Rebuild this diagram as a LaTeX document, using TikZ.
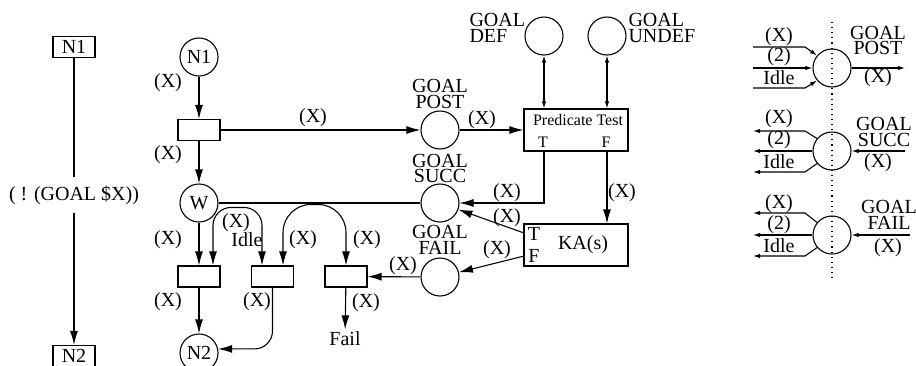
\documentclass[tikz,border=0pt]{standalone}
\usepackage{fontspec}
\setmainfont{Liberation Serif}
\usetikzlibrary{arrows.meta}
\begin{document}
\begin{tikzpicture}[x=0.5pt,y=-0.5pt,
  line width=0.55pt,
  arr/.style={-{Latex[length=7pt,width=4pt]}},
  darr/.style={{Latex[length=7pt,width=4pt]}-{Latex[length=7pt,width=4pt]}},
  sarr/.style={-{Latex[length=3.5pt,width=2.2pt]}},
  dsarr/.style={{Latex[length=3.5pt,width=2.2pt]}-{Latex[length=3.5pt,width=2.2pt]}},
  place/.style={circle,draw,minimum size=19pt,inner sep=0pt},
  trans/.style={rectangle,draw,minimum width=21pt,minimum height=10.5pt,inner sep=0pt},
  lbl/.style={inner sep=0pt,font=\fontsize{10}{7.8}\selectfont,align=center},
  sm/.style={inner sep=0pt,font=\fontsize{8}{8}\selectfont},
]
\clip (0,0) rectangle (916,365);

% ---------- left column ----------
\node[trans] (L1) at (74,47) {N1};
\node[inner sep=4pt] (Lt) at (74,195) {( ! (GOAL \$X))};
\node[trans] (L2) at (74,356) {N2};
\draw (L1) -- (Lt);
\draw[arr] (Lt) -- (L2);

% ---------- middle net ----------
\node[place] (N1) at (199,57) {N1};
\node[trans] (T0) at (199,130) {};
\node[place] (W) at (199,203) {W};
\node[trans] (T1) at (199,276.5) {};
\node[trans] (T2) at (272.5,276.5) {};
\node[trans] (T3) at (346,276.5) {};
\node[place] (N2) at (199,353) {N2};
\node[inner sep=1pt] (fail) at (345,339) {Fail};
\node[place] (GP) at (440,130) {};
\node[place] (GS) at (440,203) {};
\node[place] (GF) at (440,277) {};
\node[place] (GD) at (544,36) {};
\node[place] (GU) at (607,36) {};
\node[draw,minimum width=52pt,minimum height=21pt,inner sep=0pt] (PT) at (576,130) {};
\node[draw,minimum width=52pt,minimum height=21pt,inner sep=0pt] (KA) at (576,245) {};

\node[sm] (ptt) at (578,120) {Predicate Test};
\node[sm] (ptT) at (543,142) {T};
\node[sm] (ptF) at (606,142) {F};
\node[lbl] (kat) at (583,245) {KA(s)};
\node[lbl] (kaTl) at (534,234) {T};
\node[lbl] (kaFl) at (534,256) {F};

\node[lbl] at (440,94) {GOAL\\POST};
\node[lbl] at (440,168.5) {GOAL\\SUCC};
\node[lbl] at (440,240) {GOAL\\FAIL};
\node[lbl,align=left,anchor=west] at (469,28) {GOAL\\DEF};
\node[lbl,align=left,anchor=west] at (628,28) {GOAL\\UNDEF};

\coordinate (kaT) at (524,233);
\coordinate (kaF) at (524,256);

\draw[arr] (N1) -- (T0);
\draw[arr] (T0) -- (W);
\draw[arr] (T0) -- (GP);
\draw[arr] (GP) -- (PT);
\draw[dsarr] (GD) -- (GD |- PT.north);
\draw[dsarr] (GU) -- (GU |- PT.north);
\draw[arr] (GD |- PT.south) |- (GS);
\draw[arr] (GU |- PT.south) -- (GU |- KA.north);
\draw[arr] (kaT) -- (GS);
\draw[arr] (kaF) -- (GF);
\draw[arr] (GF) -- (T3);
\draw[arr] (T3) -- (fail);
\draw[arr] (W) -- (T1);
\draw[arr] (T1) -- (N2);
\draw[arr,rounded corners=9pt] (T2.south) |- (N2.12);
\draw (W) -- (GS);
\draw[darr,rounded corners=9pt] ([xshift=7pt]T1.north) -- ++(0,-58) -| ([xshift=-5.25pt]T2.north);
\draw[darr,rounded corners=14pt] ([xshift=5.25pt]T2.north) -- ++(0,-61) -| (T3.north);

\node[lbl] at (168,83) {(X)};
\node[lbl] at (168,155) {(X)};
\node[lbl] at (168,240) {(X)};
\node[lbl] at (168,302) {(X)};
\node[lbl] at (236,223) {(X)};
\node[lbl] at (247,240) {Idle};
\node[lbl] at (303,240) {(X)};
\node[lbl] at (367,240) {(X)};
\node[lbl] at (257,302) {(X)};
\node[lbl] at (366,303) {(X)};
\node[lbl] at (313,118) {(X)};
\node[lbl] at (482,120) {(X)};
\node[lbl] at (507,193) {(X)};
\node[lbl] at (622,193) {(X)};
\node[lbl] at (507,218) {(X)};
\node[lbl] at (497,250) {(X)};
\node[lbl] at (403,266) {(X)};

% ---------- right legend ----------
\draw[dotted] (832,22) -- (832,282);
\node[place] (R1) at (832,68) {};
\node[place] (R2) at (832,151) {};
\node[place] (R3) at (832,235) {};

\coordinate (a1) at (753,47);
\coordinate (a2) at (753,68);
\coordinate (a3) at (753,88);
\coordinate (a4) at (905,68);
\draw[sarr] (a1) -- (805,47) -- (R1.140);
\draw[sarr] (a2) -- (R1.west);
\draw[sarr] (a3) -- (805,88) -- (R1.220);
\draw[sarr] (R1.east) -- (a4);

\coordinate (b1) at (753,131);
\coordinate (b2) at (753,151);
\coordinate (b3) at (753,172);
\coordinate (b4) at (905,151);
\draw[sarr] (R2.140) -- (805,131) -- (b1);
\draw[sarr] (R2.west) -- (b2);
\draw[sarr] (R2.220) -- (805,172) -- (b3);
\draw[sarr] (b4) -- (R2.east);

\coordinate (c1) at (753,213);
\coordinate (c2) at (753,235);
\coordinate (c3) at (753,256);
\coordinate (c4) at (910,235);
\draw[sarr] (R3.140) -- (805,213) -- (c1);
\draw[sarr] (R3.west) -- (c2);
\draw[sarr] (R3.220) -- (805,256) -- (c3);
\draw[sarr] (c4) -- (R3.east);

\node[lbl] at (779,37) {(X)};
\node[lbl] at (779,57) {(2)};
\node[lbl] at (779,78) {Idle};
\node[lbl] at (878,40.5) {GOAL\\POST};
\node[lbl] at (878,78) {(X)};

\node[lbl] at (779,119) {(X)};
\node[lbl] at (779,140) {(2)};
\node[lbl] at (779,162) {Idle};
\node[lbl] at (884,132) {GOAL\\SUCC};
\node[lbl] at (878,163) {(X)};

\node[lbl] at (779,204) {(X)};
\node[lbl] at (779,225) {(2)};
\node[lbl] at (779,246) {Idle};
\node[lbl] at (889,215) {GOAL\\FAIL};
\node[lbl] at (888,248) {(X)};
\end{tikzpicture}
\end{document}
